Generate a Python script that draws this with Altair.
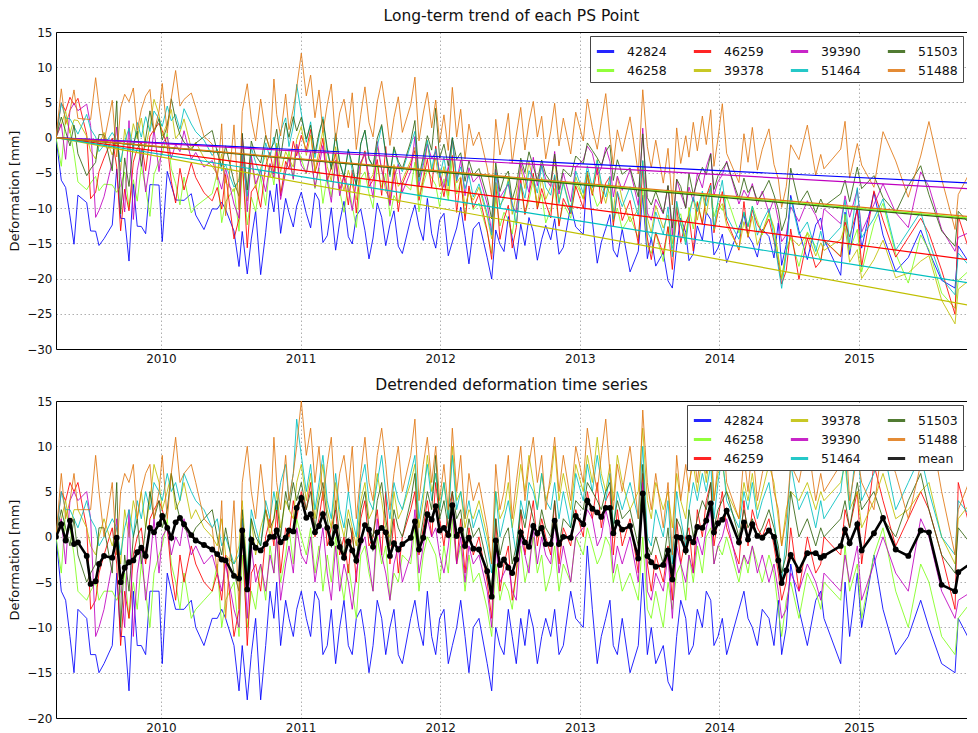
import altair as alt
import pandas as pd

# ---------------- data ----------------
dates = [
    2009.248, 2009.286, 2009.317, 2009.348, 2009.377, 2009.405, 2009.468, 2009.496, 2009.532, 2009.556,
    2009.592, 2009.651, 2009.683, 2009.711, 2009.740, 2009.771, 2009.802, 2009.830, 2009.859, 2009.890,
    2009.921, 2009.950, 2009.986, 2010.009, 2010.045, 2010.074, 2010.105, 2010.136, 2010.165, 2010.217,
    2010.249, 2010.308, 2010.367, 2010.403, 2010.435, 2010.463, 2010.523, 2010.559, 2010.582, 2010.618,
    2010.647, 2010.678, 2010.714, 2010.750, 2010.781, 2010.809, 2010.829, 2010.857, 2010.893, 2010.917,
    2010.948, 2010.972, 2011.005,
    2011.041, 2011.072, 2011.103, 2011.132, 2011.160, 2011.191, 2011.220, 2011.251, 2011.280, 2011.311,
    2011.342, 2011.370, 2011.399, 2011.431, 2011.461, 2011.490, 2011.519, 2011.549, 2011.581, 2011.610,
    2011.640, 2011.669, 2011.700, 2011.729, 2011.789, 2011.819, 2011.848, 2011.879, 2011.908, 2011.939,
    2011.968, 2011.996, 2012.027, 2012.058, 2012.087, 2012.118, 2012.147, 2012.178, 2012.206, 2012.237,
    2012.278, 2012.337, 2012.369, 2012.398, 2012.428, 2012.457, 2012.488, 2012.516, 2012.545, 2012.577,
    2012.607, 2012.636, 2012.667, 2012.696, 2012.727, 2012.756,
    2012.792, 2012.820, 2012.851, 2012.882, 2012.935, 2012.971, 2013.025, 2013.054, 2013.090, 2013.125,
    2013.154, 2013.186, 2013.216, 2013.240, 2013.269, 2013.304, 2013.360, 2013.419, 2013.451, 2013.484,
    2013.512, 2013.544, 2013.598, 2013.632, 2013.663, 2013.694, 2013.723, 2013.759, 2013.782, 2013.813,
    2013.842, 2013.878, 2013.906, 2013.938, 2013.961, 2013.990, 2014.021, 2014.052, 2014.140, 2014.176,
    2014.205, 2014.236, 2014.272, 2014.307,
    2014.355, 2014.391, 2014.422, 2014.446, 2014.479, 2014.511, 2014.570, 2014.630, 2014.690, 2014.726,
    2014.749, 2014.869, 2014.900, 2014.933, 2014.988, 2015.019, 2015.107, 2015.172, 2015.263, 2015.353,
    2015.442, 2015.501, 2015.592, 2015.688, 2015.711, 2015.812, 2015.860,
]

mean_detrended = [
    0, 1.4, -0.4, 1.8, -0.8, -0.6, -2.1, -5.2, -4.9, -3.0,
    -2.1, -2.3, -0.1, -5.0, -3.4, -2.8, -2.6, -1.7, -1.2, -2.1,
    1.0, 0.5, 1.4, 2.3, 1.0, -0.1, 1.6, 2.1, 1.4, 0.2,
    -0.4, -0.9, -1.4, -1.9, -2.5, -2.6, -4.3, -4.6, 0.7, -5.8,
    -0.3, -1.2, -1.5, -0.8, 0, 0, 0.7, -0.6, -0.1, 0.7,
    0.6, 3.2, 4.3,
    2.1, 2.5, 0.5, 1.2, 2.5, 1.0, -0.7, 1.1, -1.1, -2.3,
    -0.5, -1.5, -2.6, -0.4, 1.3, 0.8, -1.1, 0.5, 1.0, 0.5,
    -2.1, -0.7, -1.4, -0.8, -0.1, 1.7, -1.4, -0.1, 2.5, 1.9,
    3.4, 0.7, 1.0, 0.2, 3.5, 0.1, 0.8, -1.0, -0.1, -1.3,
    -1.4, -3.8, -6.6, -0.4, -3.1, -2.5, -3.4, -4.0, -2.5, 0.5,
    -0.6, -1.1, 1.2, 0.4, 1.0, -0.8,
    -0.8, 1.8, -0.8, 0, -0.1, 2.3, 1.4, 4.0, 3.1, 2.7,
    2.2, 3.2, 3.2, 0.4, 1.6, 0.8, 1.2, -2.4, 4.8, -2.1,
    -2.8, -3.3, -3.1, -1.5, -4.7, 0, -0.1, -1.5, -0.1, -0.6,
    1.1, 1.0, 1.8, 3.7, 0.5, 1.5, 1.9, 2.9, -0.6, 1.6,
    -0.3, 1.4, 0.1, -0.1,
    0.7, 0, -2.6, -5.1, -3.7, -2.0, -3.7, -1.8, -1.8, -2.3,
    -2.1, -1.0, 0.8, -0.7, 1.4, -1.5, 0.4, 2.1, -1.4, -2.1,
    0.7, 0.5, -5.3, -6.0, -3.9, -2.8, -2.5,
]

# detrended deformation [mm] of each PS point (lower panel)
d_42824 = [
    0, -6, -7, -11, -15, -8, -9, -13, -13, -15,
    -14, -12, -4, -11, -11, -17, -6, -12, -12, -13,
    -6, -6, -6, -14, -4, -6, -8, -8, -8, -7,
    -10, -12, -9, -9, -8, -9, -12, -17, -12, -18,
    -13, -9, -18, -12, -6, -9, -5, -12, -7, -9,
    -11, -8, -6,
    -9, -11, -6, -7, -13, -12, -8, -14, -10, -7,
    -12, -13, -9, -8, -11, -15, -12, -7, -9, -13,
    -10, -8, -13, -14, -9, -7, -10, -12, -6, -11,
    -13, -9, -8, -14, -12, -10, -7, -11, -15, -10,
    -9, -14, -17, -10, -12, -13, -8, -11, -14, -9,
    -12, -8, -10, -14, -11, -9,
    -11, -8, -13, -12, -6, -9, -10, -1, -8, -14,
    -11, -9, -7, -12, -13, -9, -15, -12, -4, -13,
    -10, -14, -12, -16, -17, -11, -7, -9, -13, -12,
    -8, -10, -6, -7, -12, -11, -9, -13, -8, -6,
    -9, -10, -12, -8,
    -9, -12, -7, -13, -10, -3, -8, -12, -7, -6,
    -9, -14, -5, -11, -4, -10, -2, -8, -13, -11,
    -7, -10, -14, -15, -9, -12, -8,
]
d_46258 = [
    0, -4, 3, 1, -2, -6, -7, -6, -5, -7,
    -6, -6, -7, -6, -4, -9, -5, -8, -3, -6,
    -10, -4, -2, -1, 2, -3, -5, -8, -4, -9,
    -8, -7, -6, -3, -10, -7, -5, -11, -2, -10,
    -6, -8, -3, -7, -1, -4, 0, -5, -2, 1,
    -3, 2, 0,
    -2, 1, -4, -1, -6, -2, -5, 0, -4, -7,
    -3, -6, -9, -2, -1, -4, -6, 0, -3, -1,
    -7, -4, -5, -2, -3, 1, -6, -2, 0, -1,
    -2, -5, -1, -4, 2, -3, -1, -6, -2, -5,
    -4, -8, -11, -3, -7, -5, -6, -8, -4, -1,
    -5, -3, 0, -4, -2, -6,
    -4, -1, -6, -3, -5, 0, -2, 1, -1, -3,
    -2, 0, -1, -5, -3, -6, -4, -7, 0, -8,
    -9, -6, -10, -5, -8, -4, -3, -7, -2, -5,
    -1, -4, 0, 1, -3, -1, -2, 0, -5, -2,
    -4, -1, -3, -5,
    -2, -4, -8, -11, -7, -5, -9, -4, -6, -8,
    -5, -7, -1, -6, -3, -9, -2, 1, -6, -10,
    -3, -5, -11, -13, -9, -7, -8,
]
d_46259 = [
    0, 5, 4, 6, 5, 6, 1, -8, -7, -4,
    -2, 1, -3, -12, -6, -9, -2, 0, 1, -3,
    2, 3, 4, 3, 1, -4, -7, -2, -5, -1,
    -3, -5, -6, -4, -7, -2, -11, -8, 1, -12,
    -4, -3, -6, 0, 2, -1, 3, -4, 1, 0,
    4, 2, 5,
    3, 6, 0, 2, 5, -1, 1, 3, -2, 0,
    -4, 1, -5, 2, 4, -1, 0, 3, -2, 5,
    -3, 2, -4, 0, 3, 5, -2, 1, 4, 0,
    6, 2, -1, 3, 5, -3, 2, -4, 1, -2,
    0, -5, -9, 2, -6, -3, -1, -7, -4, 3,
    -2, 1, 4, -1, 2, 0,
    -2, 4, -3, 1, -1, 3, 0, 5, 2, 6,
    1, 4, 5, -2, 3, -1, 2, -4, 7, -3,
    -6, -2, -5, -1, -7, 2, -3, 0, 1, -4,
    3, 0, 4, 6, -1, 2, 5, 1, -3, 4,
    -1, 3, 1, 0,
    2, -1, -4, -7, -5, 1, -6, 0, -4, -3,
    0, -2, 3, 1, 5, -3, 8, 4, -1, 2,
    5, 3, -2, -8, 6, 0, -3,
]
d_39378 = [
    0, 2, 4, 1, 3, 3, 1, -1, -2, 0,
    2, -1, 1, -3, 3, 0, 4, 2, 5, 1,
    4, 8, 6, 3, 5, 7, 3, 4, 6, 2,
    3, 1, 0, -1, 2, -2, -3, -1, 4, -4,
    2, -2, 1, 3, 0, 2, 5, 1, 4, 3,
    2, 6, 8,
    4, 7, 2, 5, 8, 3, 1, 6, 2, 0,
    3, 1, -1, 4, 6, 2, 3, 7, 4, 1,
    0, 5, 2, 3, 6, 8, 1, 4, 9, 5,
    7, 3, 6, 2, 10, 4, 5, 1, 3, 2,
    4, 0, -3, 5, 2, 3, 6, 1, 4, 8,
    5, 9, 6, 3, 7, 4,
    6, 10, 4, 7, 3, 8, 5, 9, 6, 11,
    7, 5, 8, 4, 9, 6, 3, 5, 12, 4,
    2, 6, 3, 5, 1, 7, 4, 2, 6, 8,
    5, 9, 6, 10, 4, 7, 8, 5, 2, 6,
    4, 7, 3, 5,
    8, 6, 2, -1, 3, 5, 4, 6, 3, 5,
    4, 6, 8, 3, 5, 1, 4, 7, 2, 3,
    5, 6, 0, -3, 2, 4, 1,
]
d_39390 = [
    0, 2, -3, 4, 5, 4, 5, 2, -11, -10,
    -8, -3, 2, -5, -10, 3, -11, -4, -1, -7,
    -3, 2, -4, 0, 1, -2, 0, -1, 2, -2,
    -1, -3, -2, -4, -6, -3, -8, -10, 2, -9,
    -1, -5, -3, -6, -2, -4, 0, -7, -3, -1,
    -4, 1, -2,
    -3, 0, -5, -2, 1, -4, -7, -1, -6, -3,
    -5, -8, -4, -1, 0, -3, -6, 2, -2, -4,
    -7, -3, -1, -5, -2, 3, -4, -1, 2, 0,
    1, -2, -4, -1, 3, -3, 0, -5, -1, -3,
    -2, -6, -10, -1, -5, -4, -3, -6, -7, 0,
    -2, -4, 1, -3, 0, -2,
    -3, 2, -4, -1, -5, 0, 1, 3, 2, -1,
    0, 3, 1, -4, -1, -3, 0, -5, 6, -6,
    -7, -4, -6, -2, -9, -1, -3, -5, -2, -4,
    0, -2, 1, 3, -3, -1, 0, 2, -4, -2,
    -3, -1, -4, -2,
    -5, -3, -6, -9, -8, -4, -6, -3, -5, -7,
    -4, -6, -2, -5, -1, -7, -3, 0, -4, -6,
    2, 0, -6, -9, -7, -6, -7,
]
d_51464 = [
    0, 5, 3, 3, 2, 1, 4, 2, 1, -1,
    0, 2, 1, -2, 1, 3, 0, 4, 2, 5,
    3, 6, 5, 4, 7, 5, 6, 4, 7, 5,
    4, 3, 1, 2, -1, 0, -3, -2, 2, -4,
    3, 1, -1, 4, 2, 5, 3, 6, 8, 4,
    7, 13, 9,
    5, 8, 3, 6, 9, 4, 2, 7, 3, 1,
    5, 2, 0, 6, 8, 4, 3, 6, 9, 5,
    2, 6, 4, 3, 7, 9, 2, 5, 8, 4,
    7, 3, 6, 2, 9, 3, 5, 2, 4, 1,
    3, -1, -4, 5, 0, 2, 4, 1, -2, 4,
    2, 6, 5, 3, 7, 4,
    3, 6, 2, 5, 1, 7, 4, 8, 5, 9,
    6, 4, 7, 1, 5, 3, 6, 2, 10, 0,
    -1, 3, 0, 4, -3, 5, 2, -1, 3, 6,
    4, 7, 5, 8, 2, 6, 9, 4, 1, 5,
    3, 6, 2, 4,
    6, 2, -2, -5, 0, 8, 3, 5, 1, 4,
    2, 5, 9, 3, 11, 4, 7, 10, 3, 6,
    9, 5, 0, -2, 4, 2, 3,
]
d_51503 = [
    0, 3, 1, -1, 2, -2, -5, -4, -3, 1,
    1, -4, 6, -10, -2, -6, 0, 2, -3, 1,
    5, 2, 4, 1, 3, 7, 4, 2, 1, 0,
    1, 2, 3, 0, -2, 1, -4, -6, 3, -5,
    2, 0, -1, 3, 1, 2, 4, 0, 5, 3,
    6, 4, 6,
    3, 5, 1, 4, 6, 2, -1, 4, 0, -2,
    2, 0, -3, 3, 5, 1, 0, 4, 6, 2,
    -1, 3, 1, 0, 4, 7, -1, 2, 5, 3,
    9, 2, 4, 1, 5, 2, 3, -1, 2, 0,
    1, -3, -6, 2, -2, 0, 1, -3, -1, 3,
    1, 4, 2, 0, 3, 1,
    0, 4, -1, 2, 1, 4, 3, 6, 5, 4,
    3, 5, 6, 1, 4, 2, 3, -1, 8, -1,
    -2, 0, -3, 1, -5, 2, 1, -2, 3, 0,
    2, 4, 3, 6, 1, 3, 4, 5, 0, 3,
    1, 2, 0, 1,
    3, 1, -1, -4, -2, 5, 0, 2, -1, 1,
    0, 2, 4, 1, 6, 3, 5, 2, 0, 4,
    7, 3, -2, -4, 1, -1, 0,
]
d_51488 = [
    0, 7, 2, 4, 7, 3, 3, 3, 9, 5,
    0, 6, -2, 5, 7, 6, 8, 2, 5, 7,
    8, 2, 5, 9, 2, 7, 11, 6, 7, 8,
    6, 2, 1, -4, 4, -9, 4, -8, 6, 10,
    5, 2, 8, 3, 1, 11, 6, 3, 9, 4,
    7, 10, 15,
    9, 12, 6, 10, 4, 8, 11, 3, 7, 9,
    5, 10, 2, 7, 11, 6, 4, 9, 12, 8,
    3, 7, 10, 5, 9, 13, 4, 8, 11, 6,
    10, 4, 8, 3, 12, 5, 9, 2, 7, 4,
    6, 1, -3, 8, 3, 5, 9, 2, 6, 10,
    4, 8, 11, 6, 9, 3,
    7, 11, 5, 9, 4, 10, 6, 12, 8, 5,
    9, 13, 7, 3, 8, 5, 10, 2, 14, 6,
    3, 7, 1, 6, -2, 9, 4, 8, 5, 10,
    6, 11, 7, 12, 4, 8, 13, 6, 2, 9,
    5, 10, 4, 7,
    10, 5, 3, -1, 2, 8, 6, 11, 4, 7,
    5, 8, 12, 4, 9, 6, 3, 11, 7, 2,
    8, 13, 5, -2, 3, 7, 2,
]

ids = ["42824", "46258", "46259", "39378", "39390", "51464", "51503", "51488"]
detrended = [d_42824, d_46258, d_46259, d_39378, d_39390, d_51464, d_51503, d_51488]
# value of each long-term trend line at the right edge of the picture [mm]
trend_end = [-6.5, -11.5, -17.5, -24.0, -7.3, -20.8, -11.7, -11.3]
T0 = 2009.248
T_EDGE = 2015.845

colors = {
    "42824": "#0000ff", "46258": "#7fff1a", "46259": "#ff0000", "39378": "#bfbf00",
    "39390": "#bf00bf", "51464": "#00bfbf", "51503": "#33640f", "51488": "#e07712",
    "mean": "#000000",
}
top_order = ids
bot_order = ids + ["mean"]

for arr in detrended + [mean_detrended]:
    assert len(arr) == len(dates), len(arr)

# ---------------- tables ----------------
rows, trows = [], []
for sid, res, tend in zip(ids, detrended, trend_end):
    slope = tend / (T_EDGE - T0)
    for t, r in zip(dates, res):
        rows.append({"t": t, "id": sid, "resid": r, "value": r + slope * (t - T0)})
    for t in (dates[0], dates[-1]):
        trows.append({"t": t, "id": sid, "value": slope * (t - T0)})
df = pd.DataFrame(rows)
tdf = pd.DataFrame(trows)
mdf = pd.DataFrame({"t": dates, "mean": mean_detrended, "id": "mean"})

XMAX = 2010 + (968 - 162) / 139.6
W, H = 911, 317
xscale = alt.Scale(domain=[T0, XMAX], nice=False, zero=False)

# bottom axis with labels and grid; a bare top axis closes the frame (the reference is cut at the right)
x_bottom = alt.X("t:Q", scale=xscale,
                 axis=alt.Axis(values=[2010, 2011, 2012, 2013, 2014, 2015], format="d", title=None,
                               domain=True, domainColor="#000", domainWidth=1))
x_top = alt.X("t:Q", scale=xscale,
              axis=alt.Axis(orient="top", labels=False, ticks=False, grid=False, title=None,
                            domain=True, domainColor="#000", domainWidth=1))
x_none = alt.X("t:Q", scale=xscale, axis=None)


def yaxis(lo):
    return alt.Axis(values=list(range(lo, 16, 5)), title="Deformation [mm]",
                    domain=True, domainColor="#000", domainWidth=1)


ytop = alt.Y("value:Q", scale=alt.Scale(domain=[-30, 15], nice=False), axis=yaxis(-30))


def legend(cols):
    return alt.Legend(title=None, orient="top-right", columns=cols, symbolType="stroke",
                      symbolStrokeWidth=3, symbolSize=300, labelFontSize=12.5, columnPadding=20,
                      rowPadding=2, padding=5, offset=4, strokeColor="#444", fillColor="white",
                      labelOffset=11, labelColor="#111")


top_color = alt.Color("id:N", scale=alt.Scale(domain=top_order,
                                               range=[colors[k] for k in top_order]),
                      legend=legend(4))
top_lines = alt.Chart(df).mark_line(strokeWidth=1, opacity=0.85, clip=True).encode(
    x=x_bottom, y=ytop, color=top_color, detail="id:N",
)
top_trend = alt.Chart(tdf).mark_line(strokeWidth=1.2, clip=True).encode(
    x=x_top, y=ytop, color=top_color, detail="id:N",
)
top = alt.layer(top_lines, top_trend).resolve_axis(x="independent").properties(
    width=W, height=H, title="Long-term trend of each PS Point")

ybot = alt.Y("resid:Q", scale=alt.Scale(domain=[-20, 15], nice=False), axis=yaxis(-20))
bot_color = alt.Color("id:N", scale=alt.Scale(domain=bot_order,
                                               range=[colors[k] for k in bot_order]),
                      legend=legend(3))
bot_lines = alt.Chart(df).mark_line(strokeWidth=1, opacity=0.85, clip=True).encode(
    x=x_bottom, y=ybot, color=bot_color, detail="id:N",
)
ymean = alt.Y("mean:Q", scale=alt.Scale(domain=[-20, 15], nice=False), axis=yaxis(-20))
mean_line = alt.Chart(mdf).mark_line(strokeWidth=2.6, clip=True).encode(
    x=x_top, y=ymean, color=bot_color,
)
mean_pts = alt.Chart(mdf).mark_circle(size=34, opacity=1, color="black", clip=True).encode(
    x=x_none, y=ymean,
)
bottom = alt.layer(bot_lines, mean_line, mean_pts).resolve_axis(x="independent").properties(
    width=W, height=H, title="Detrended deformation time series")

chart = alt.vconcat(top, bottom, spacing=13).resolve_scale(color="independent").properties(
    padding={"left": 0, "top": 0, "right": 0, "bottom": 0}
).configure(font="DejaVu Sans").configure_view(
    strokeWidth=0
).configure_axis(
    labelFontSize=12, titleFontSize=13, labelColor="#111", titleColor="#111",
    titleFontWeight="normal", domain=False, ticks=False, labelPadding=4, titlePadding=5,
    gridColor="#9a9a9a", gridDash=[1.5, 2.5], gridWidth=0.8,
).configure_title(fontSize=15.5, fontWeight="normal", offset=2, color="#111")

chart.save("out.html", embed_options={"renderer": "svg", "actions": False})
